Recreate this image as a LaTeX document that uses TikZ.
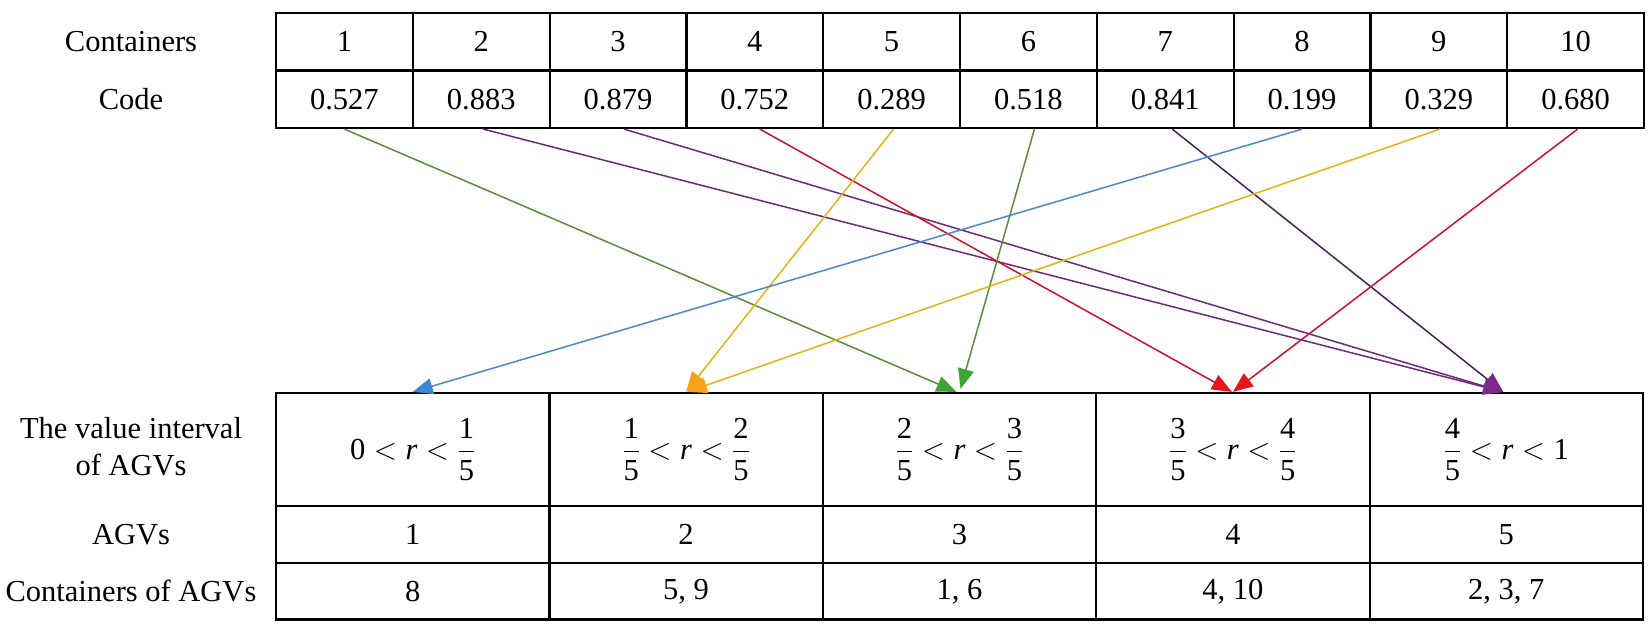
\RequirePackage{fix-cm}
\documentclass[tikz,border=0pt]{standalone}
\usepackage{fontspec}
\setmainfont{Liberation Serif}
\usetikzlibrary{arrows.meta,calc}
\definecolor{ablue}{HTML}{4A88C8}
\definecolor{abluehead}{HTML}{3E86CF}
\definecolor{aorange}{HTML}{E6B115}
\definecolor{aorangehead}{HTML}{F7A21B}
\definecolor{agreen}{HTML}{5B8C3A}
\definecolor{agreenhead}{HTML}{3FA535}
\definecolor{ared}{HTML}{D01028}
\definecolor{aredhead}{HTML}{E8141C}
\definecolor{apurple}{HTML}{6A2A78}
\definecolor{apurpledark}{HTML}{4A1F5C}
\definecolor{apurplehead}{HTML}{7B2A8C}
\newcommand{\ivl}[1]{$\displaystyle #1$}
\newcommand{\fr}[2]{\frac{\mathrm{#1}}{\mathrm{#2}}}
\begin{document}
\begin{tikzpicture}[x=1pt,y=-1pt,
  every node/.style={font=\fontsize{30.5}{37}\selectfont},
  tcell/.style={draw=black,line width=2.2pt,inner sep=0pt,minimum width=136.8pt,minimum height=57.5pt},
  bcell/.style={draw=black,line width=2.2pt,inner sep=0pt,minimum width=273.4pt},
  lbl/.style={align=center,inner sep=0pt},
  conn/.style={line width=1.5pt},
  bluearr/.style={conn,draw=ablue,-{Triangle[length=20pt,width=16pt,color=abluehead]}},
  orangearr/.style={conn,draw=aorange,-{Triangle[length=20pt,width=16pt,color=aorangehead]}},
  greenarr/.style={conn,draw=agreen,-{Triangle[length=20pt,width=16pt,color=agreenhead]}},
  redarr/.style={conn,draw=ared,-{Triangle[length=20pt,width=16pt,color=aredhead]}},
  purplearr/.style={conn,draw=apurple,-{Triangle[length=20pt,width=16pt,color=apurplehead]}},
]
\useasboundingbox (0,0) rectangle (1650,629);

% left labels
\node[lbl] (lcont) at (131,41.75) {Containers};
\node[lbl] (lcode) at (131,99.25) {Code};
\node[lbl] (lval) at (131,447) {The value interval\\of AGVs};
\node[lbl] (lagv) at (131,534.5) {AGVs};
\node[lbl] (lcagv) at (131,591.25) {Containers of AGVs};

% top table
\foreach \i/\v in {1/0.527,2/0.883,3/0.879,4/0.752,5/0.289,6/0.518,7/0.841,8/0.199,9/0.329,10/0.680}{
  \node[tcell] (n\i) at ({276+136.8*(\i-0.5)},41.75) {\i};
  \node[tcell] (c\i) at ({276+136.8*(\i-0.5)},99.25) {\v};
}

% bottom table
\node[bcell,minimum height=113pt] (v1) at ({276+273.4*0.5},449.5) {\ivl{\mathrm{0}<\mathit{r}<\fr{1}{5}}};
\node[bcell,minimum height=113pt] (v2) at ({276+273.4*1.5},449.5) {\ivl{\fr{1}{5}<\mathit{r}<\fr{2}{5}}};
\node[bcell,minimum height=113pt] (v3) at ({276+273.4*2.5},449.5) {\ivl{\fr{2}{5}<\mathit{r}<\fr{3}{5}}};
\node[bcell,minimum height=113pt] (v4) at ({276+273.4*3.5},449.5) {\ivl{\fr{3}{5}<\mathit{r}<\fr{4}{5}}};
\node[bcell,minimum height=113pt] (v5) at ({276+273.4*4.5},449.5) {\ivl{\fr{4}{5}<\mathit{r}<\mathrm{1}}};
\foreach \j/\a/\c in {1/1/8,2/2/{5, 9},3/3/{1, 6},4/4/{4, 10},5/5/{2, 3, 7}}{
  \node[bcell,minimum height=57pt] (g\j) at ({276+273.4*(\j-0.5)},534.5) {\a};
  \node[bcell,minimum height=56.5pt] (k\j) at ({276+273.4*(\j-0.5)},591.25) {\c};
}

% connectors
\draw[greenarr] (c1.south) -- ([xshift=-3pt]v3.north);
\draw[purplearr] ([xshift=2pt]c2.south) -- ([xshift=-3pt]v5.north);
\draw[purplearr] ([xshift=6pt]c3.south) -- ([xshift=-3pt]v5.north);
\draw[redarr] ([xshift=5pt]c4.south) -- ([xshift=-1pt]v4.north);
\draw[orangearr] ([xshift=2pt]c5.south) -- (v2.north);
\draw[greenarr] ([xshift=6pt]c6.south) -- ([xshift=1pt,yshift=3pt]v3.north);
\draw[purplearr,draw=apurpledark] ([xshift=7pt]c7.south) -- ([xshift=-3pt]v5.north);
\draw[bluearr] (c8.south) -- (v1.north);
\draw[orangearr] ([xshift=1pt]c9.south) -- ([xshift=1pt]v2.north);
\draw[redarr] ([xshift=2pt]c10.south) -- (v4.north);
\end{tikzpicture}
\end{document}
